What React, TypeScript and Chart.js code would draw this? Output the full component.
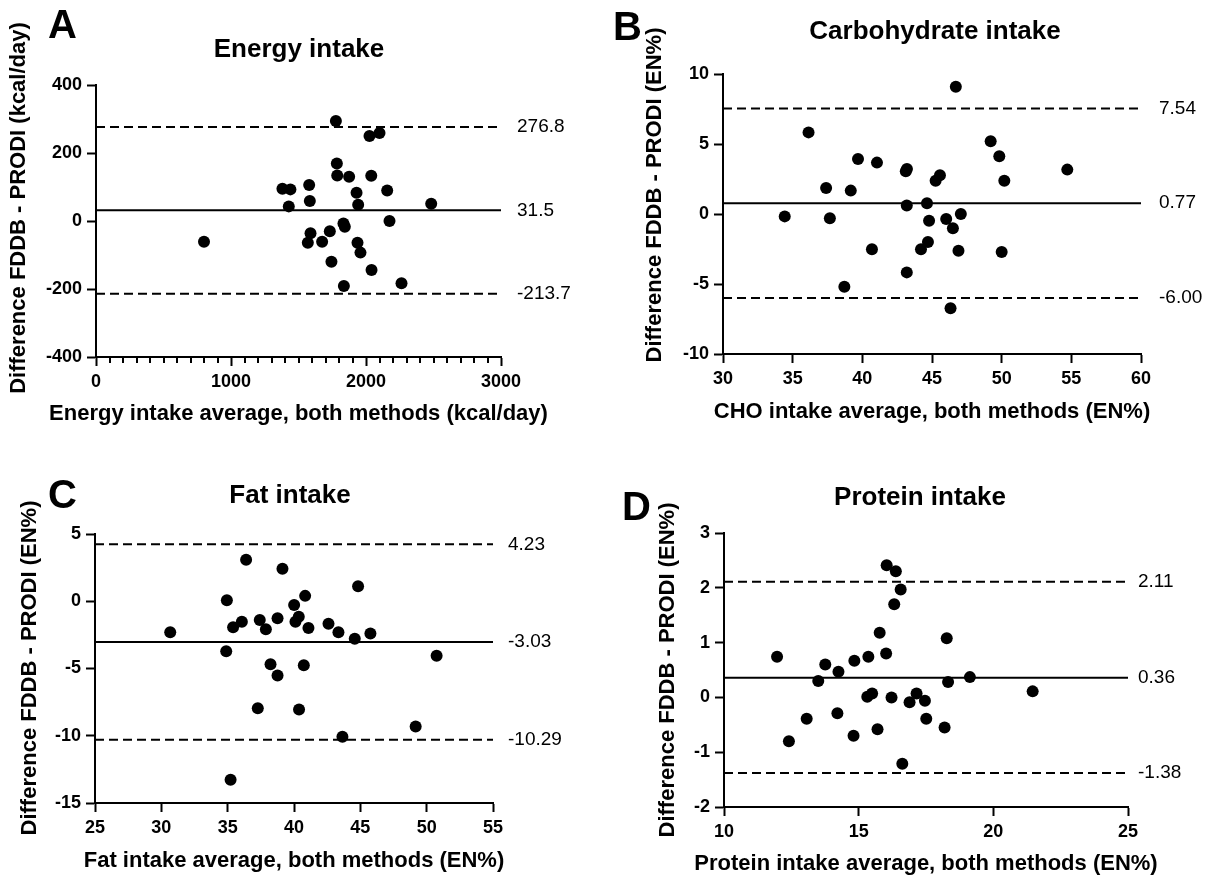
import React, { useEffect, useRef } from "react";
import { Chart, registerables } from "chart.js";
Chart.register(...registerables);

const FONT = '"Liberation Sans", Arial, Helvetica, sans-serif';

// ---- Panel A: Energy intake ----
const energyAvg = [1777, 2026, 2100, 1784, 1787, 1875, 2039, 1381, 1440, 1579, 2157, 1930, 1584, 1428, 1942, 2483, 2174, 1833, 1843, 800, 1589, 1732, 1569, 1675, 1937, 1959, 1744, 2041, 2263, 1836];
const energyDiff = [294, 250, 259, 169, 134, 130, 133, 95, 93, 106, 90, 83, 59, 43, 48, 51, 0, -7, -17, -61, -36, -30, -64, -61, -64, -93, -120, -144, -183, -191];
const energyLimits = [276.8, 31.5, -213.7];
const energyLimitLabels = ["276.8", "31.5", "-213.7"];

// ---- Panel B: Carbohydrate intake ----
const choAvg = [46.71, 36.14, 49.21, 49.83, 39.69, 41.05, 43.12, 43.2, 54.71, 45.57, 45.26, 50.19, 37.4, 39.17, 43.19, 44.64, 47.07, 34.43, 37.67, 44.79, 46.02, 46.5, 44.71, 44.21, 40.69, 46.9, 50.0, 43.19, 38.71, 46.33];
const choDiff = [9.09, 5.83, 5.19, 4.12, 3.93, 3.67, 3.05, 3.22, 3.17, 2.76, 2.38, 2.38, 1.86, 1.67, 0.6, 0.76, 0, -0.17, -0.31, -0.48, -0.36, -1.02, -2.0, -2.52, -2.52, -2.62, -2.71, -4.17, -5.19, -6.74];
const choLimits = [7.54, 0.77, -6.0];
const choLimitLabels = ["7.54", "0.77", "-6.00"];

// ---- Panel C: Fat intake ----
const fatAvg = [36.39, 39.13, 44.83, 34.94, 40.84, 40.01, 36.07, 35.41, 37.42, 37.88, 38.76, 40.11, 40.36, 41.09, 42.6, 43.35, 44.58, 45.76, 30.67, 34.89, 50.75, 38.23, 40.74, 38.76, 37.27, 40.38, 43.65, 49.17, 35.22];
const fatDiff = [3.08, 2.41, 1.12, 0.07, 0.4, -0.28, -1.52, -1.94, -1.4, -2.09, -1.27, -1.52, -1.15, -1.99, -1.67, -2.31, -2.79, -2.39, -2.31, -3.71, -4.06, -4.68, -4.75, -5.52, -7.96, -8.04, -10.07, -9.31, -13.28];
const fatLimits = [4.23, -3.03, -10.29];
const fatLimitLabels = ["4.23", "-3.03", "-10.29"];

// ---- Panel D: Protein intake ----
const proteinAvg = [16.04, 16.38, 16.56, 16.32, 15.78, 18.27, 16.02, 11.97, 15.36, 14.84, 13.76, 14.25, 13.5, 18.32, 19.13, 21.46, 15.32, 15.5, 16.22, 17.15, 16.89, 17.46, 17.51, 13.07, 14.21, 15.7, 18.19, 14.81, 12.41, 16.62];
const proteinDiff = [2.41, 2.3, 1.97, 1.7, 1.18, 1.08, 0.8, 0.74, 0.74, 0.67, 0.6, 0.47, 0.3, 0.28, 0.37, 0.11, 0.01, 0.07, 0.0, 0.07, -0.09, -0.06, -0.39, -0.39, -0.29, -0.58, -0.55, -0.7, -0.8, -1.21];
const proteinLimits = [2.11, 0.36, -1.38];
const proteinLimitLabels = ["2.11", "0.36", "-1.38"];

type PanelCfg = {
  left: number; top: number; width: number; height: number;
  L: number; R: number; T: number; H: number;
  xs: number[]; ys: number[]; limits: number[]; limitLabels: string[];
  xMin: number; xMax: number; xStep: number;
  yMin: number; yMax: number; yStep: number;
  xTitle: string; yTitle: string; title: string; letter: string;
  letterX: number; letterY: number; titleX: number; titleY: number;
  yTitleX: number; yTitleY: number; labelOffset: number; xTitleY: number;
  minorStep?: number;
};

const panels: PanelCfg[] = [
  {
    left: 0, top: 0, width: 605, height: 440, L: 96, R: 104, T: 85, H: 83,
    xs: energyAvg, ys: energyDiff, limits: energyLimits, limitLabels: energyLimitLabels,
    xMin: 0, xMax: 3000, xStep: 1000, yMin: -400, yMax: 400, yStep: 200,
    xTitle: "Energy intake average, both methods (kcal/day)",
    yTitle: "Difference FDDB - PRODI (kcal/day)", title: "Energy intake", letter: "A",
    letterX: 48, letterY: 38, titleX: 299, titleY: 57, yTitleX: 19, yTitleY: 208,
    labelOffset: 16, xTitleY: 414, minorStep: 100,
  },
  {
    left: 605, top: 0, width: 606, height: 440, L: 118, R: 70, T: 74, H: 86,
    xs: choAvg, ys: choDiff, limits: choLimits, limitLabels: choLimitLabels,
    xMin: 30, xMax: 60, xStep: 5, yMin: -10, yMax: 10, yStep: 5,
    xTitle: "CHO intake average, both methods (EN%)",
    yTitle: "Difference FDDB - PRODI (EN%)", title: "Carbohydrate intake", letter: "B",
    letterX: 8, letterY: 40, titleX: 330, titleY: 39, yTitleX: 50, yTitleY: 195,
    labelOffset: 18, xTitleY: 412,
  },
  {
    left: 0, top: 440, width: 605, height: 440, L: 95, R: 112, T: 94, H: 77,
    xs: fatAvg, ys: fatDiff, limits: fatLimits, limitLabels: fatLimitLabels,
    xMin: 25, xMax: 55, xStep: 5, yMin: -15, yMax: 5, yStep: 5,
    xTitle: "Fat intake average, both methods (EN%)",
    yTitle: "Difference FDDB - PRODI (EN%)", title: "Fat intake", letter: "C",
    letterX: 48, letterY: 68, titleX: 290, titleY: 63, yTitleX: 30, yTitleY: 228,
    labelOffset: 15, xTitleY: 421,
  },
  {
    left: 605, top: 440, width: 606, height: 440, L: 119, R: 83, T: 93, H: 73,
    xs: proteinAvg, ys: proteinDiff, limits: proteinLimits, limitLabels: proteinLimitLabels,
    xMin: 10, xMax: 25, xStep: 5, yMin: -2, yMax: 3, yStep: 1,
    xTitle: "Protein intake average, both methods (EN%)",
    yTitle: "Difference FDDB - PRODI (EN%)", title: "Protein intake", letter: "D",
    letterX: 17, letterY: 80, titleX: 315, titleY: 65, yTitleX: 63, yTitleY: 230,
    labelOffset: 10, xTitleY: 424,
  },
];

function Panel({ cfg }: { cfg: PanelCfg }) {
  const ref = useRef<HTMLCanvasElement | null>(null);
  useEffect(() => {
    if (!ref.current) return;
    const axisCommon = {
      grid: { display: true, drawOnChartArea: false, drawTicks: true, tickLength: 9, tickWidth: 2, tickColor: "#000" },
      border: { display: true, color: "#000", width: 2 },
    };
    const decor = {
      id: "decor",
      afterDraw(chart: any) {
        const ctx = chart.ctx as CanvasRenderingContext2D;
        const area = chart.chartArea;
        const xs = chart.scales.x;
        const ys = chart.scales.y;
        ctx.save();
        ctx.fillStyle = "#000";
        ctx.strokeStyle = "#000";
        ctx.textBaseline = "alphabetic";
        ctx.textAlign = "left";
        ctx.font = `bold 40px ${FONT}`;
        ctx.fillText(cfg.letter, cfg.letterX, cfg.letterY);
        ctx.textAlign = "center";
        ctx.font = `bold 26px ${FONT}`;
        ctx.fillText(cfg.title, cfg.titleX, cfg.titleY);
        // x-axis title
        ctx.font = `bold 22px ${FONT}`;
        ctx.textBaseline = "middle";
        ctx.fillText(cfg.xTitle, (area.left + area.right) / 2, cfg.xTitleY);
        // y-axis title
        ctx.save();
        ctx.translate(cfg.yTitleX, cfg.yTitleY);
        ctx.rotate(-Math.PI / 2);
        ctx.fillText(cfg.yTitle, 0, 0);
        ctx.restore();
        // limits of agreement labels
        ctx.font = `19px ${FONT}`;
        ctx.textAlign = "left";
        cfg.limits.forEach((v, i) => {
          ctx.fillText(cfg.limitLabels[i], area.right + cfg.labelOffset, ys.getPixelForValue(v));
        });
        if (cfg.minorStep) {
          ctx.lineWidth = 2;
          for (let v = cfg.xMin + cfg.minorStep; v < cfg.xMax; v += cfg.minorStep) {
            if (Math.abs(v % cfg.xStep) < 1e-9) continue;
            const px = Math.round(xs.getPixelForValue(v));
            ctx.beginPath();
            ctx.moveTo(px, area.bottom);
            ctx.lineTo(px, area.bottom + 6);
            ctx.stroke();
          }
        }
        ctx.restore();
      },
    };
    const lineDs = cfg.limits.map((v, i) => ({
      data: [{ x: cfg.xMin, y: v }, { x: cfg.xMax, y: v }],
      showLine: true,
      borderColor: "#000",
      borderWidth: 2,
      borderDash: i === 1 ? [] : [9, 5],
      pointRadius: 0,
      fill: false,
    }));
    const chart = new Chart(ref.current, {
      type: "scatter",
      data: {
        datasets: [
          ...lineDs,
          {
            data: cfg.xs.map((x, i) => ({ x, y: cfg.ys[i] })),
            pointRadius: 6,
            pointHoverRadius: 6,
            backgroundColor: "#000",
            borderWidth: 0,
          },
        ],
      },
      options: {
        responsive: false,
        maintainAspectRatio: false,
        animation: false,
        devicePixelRatio: 1,
        layout: { padding: { left: 0, right: cfg.R, top: cfg.T, bottom: 0 } },
        plugins: { legend: { display: false }, tooltip: { enabled: false }, title: { display: false } },
        scales: {
          x: {
            type: "linear",
            min: cfg.xMin,
            max: cfg.xMax,
            ...axisCommon,
            ticks: {
              stepSize: cfg.xStep,
              color: "#000",
              font: { family: FONT, size: 18, weight: "bold" },
              padding: 5,
              maxRotation: 0,
              autoSkip: false,
              callback: (v: any) => String(v),
            },
            title: { display: false },
            afterFit: (s: any) => { s.height = cfg.H; },
          },
          y: {
            type: "linear",
            min: cfg.yMin,
            max: cfg.yMax,
            ...axisCommon,
            ticks: {
              stepSize: cfg.yStep,
              color: "#000",
              font: { family: FONT, size: 18, weight: "bold" },
              padding: 5,
              autoSkip: false,
              callback: (v: any) => String(v),
            },
            afterFit: (s: any) => { s.width = cfg.L; },
          },
        },
      } as any,
      plugins: [decor],
    });
    return () => chart.destroy();
  }, [cfg]);
  return (
    <canvas
      ref={ref}
      width={cfg.width}
      height={cfg.height}
      style={{ position: "absolute", left: cfg.left, top: cfg.top, width: cfg.width, height: cfg.height }}
    />
  );
}

export default function App() {
  return (
    <div style={{ position: "absolute", left: 0, top: 0, width: 1211, height: 880, background: "#fff" }}>
      {panels.map((p) => (
        <Panel key={p.letter} cfg={p} />
      ))}
    </div>
  );
}
